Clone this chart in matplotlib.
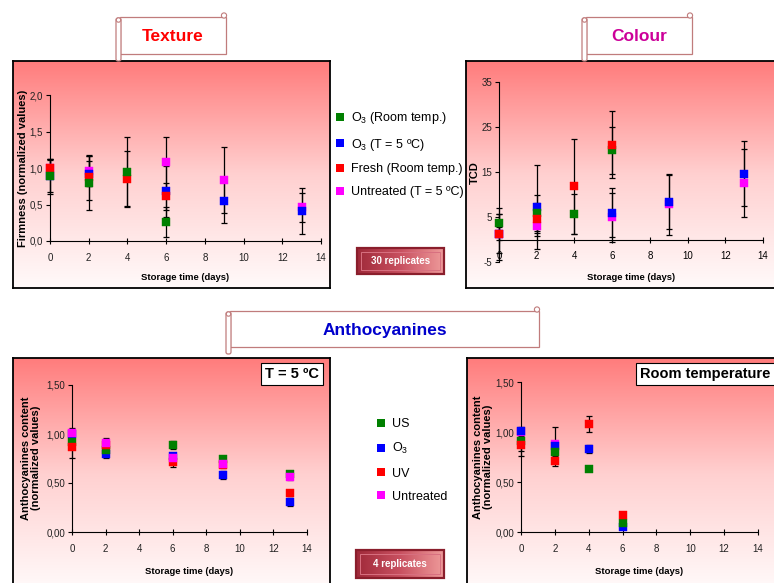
import numpy as np
import matplotlib
matplotlib.use('Agg')
import matplotlib.pyplot as plt
from matplotlib import font_manager
from matplotlib.colors import LinearSegmentedColormap
from matplotlib.lines import Line2D
from matplotlib.patches import Rectangle, Circle, FancyBboxPatch
from matplotlib.ticker import FuncFormatter

plt.rcParams['font.family'] = ['Liberation Sans', 'DejaVu Sans']
plt.rcParams['mathtext.default'] = 'regular'
names = {f.name for f in font_manager.fontManager.ttflist}
narrow = 'Liberation Sans Narrow' if 'Liberation Sans Narrow' in names else 'Liberation Sans'
lab_size = 8 if narrow == 'Liberation Sans Narrow' else 6.8
ylab_size = 9.5 if narrow == 'Liberation Sans Narrow' else 8.0
tick_size = 8.5 if narrow == 'Liberation Sans Narrow' else 7.0

W, H = 774, 583

# ---- data -----------------------------------------------------------
# Texture (firmness, normalized)
tex_green_days = [0, 2, 4, 6]
tex_green = [0.89, 0.80, 0.95, 0.26]
tex_green_err = [0.24, 0.37, 0.47, 0.20]
tex_blue_days = [0, 2, 6, 9, 13]
tex_blue = [0.89, 0.92, 0.68, 0.55, 0.41]
tex_blue_err = [0.22, 0.17, 0.35, 0.30, 0.32]
tex_red_days = [0, 2, 4, 6]
tex_red = [1.00, 0.87, 0.85, 0.61]
tex_red_err = [0.12, 0.31, 0.38, 0.18]
tex_mag_days = [0, 2, 6, 9, 13]
tex_mag = [1.00, 0.96, 1.08, 0.84, 0.46]
tex_mag_err = [0.12, 0.20, 0.35, 0.45, 0.20]

# Colour (TCD)
col_green_days = [0, 2, 4, 6]
col_green = [3.7, 5.9, 5.7, 19.8]
col_green_err = [2.0, 3.9, 4.5, 5.3]
col_blue_days = [0, 2, 6, 9, 13]
col_blue = [1.3, 7.2, 6.0, 8.3, 14.6]
col_blue_err = [4.3, 9.4, 5.4, 6.0, 7.2]
col_red_days = [0, 2, 4, 6]
col_red = [1.3, 4.5, 11.8, 21.1]
col_red_err = [5.8, 3.7, 10.6, 7.5]
col_mag_days = [0, 2, 6, 9, 13]
col_mag = [1.3, 2.9, 4.9, 7.8, 12.6]
col_mag_err = [1.5, 1.4, 5.4, 6.8, 7.5]

# Anthocyanines, T = 5 C
a5_days = [0, 2, 6, 9, 13]
a5_us = [0.92, 0.84, 0.89, 0.75, 0.59]
a5_us_err = [0.04, 0.03, 0.04, 0.03, 0.02]
a5_o3 = [1.00, 0.80, 0.78, 0.58, 0.31]
a5_o3_err = [0.03, 0.04, 0.03, 0.04, 0.04]
a5_uv = [0.87, 0.89, 0.71, 0.68, 0.40]
a5_uv_err = [0.11, 0.04, 0.05, 0.03, 0.03]
a5_un = [1.01, 0.91, 0.76, 0.69, 0.56]
a5_un_err = [0.05, 0.05, 0.04, 0.03, 0.03]

# Anthocyanines, room temperature
art_days = [0, 2, 4, 6]
art_us = [0.91, 0.80, 0.63, 0.09]
art_us_err = [0.10, 0.03, 0.02, 0.02]
art_o3 = [1.01, 0.86, 0.83, 0.05]
art_o3_err = [0.04, 0.03, 0.04, 0.01]
art_uv = [0.87, 0.71, 1.08, 0.17]
art_uv_err = [0.11, 0.05, 0.08, 0.02]
art_un_days = [0, 2]
art_un = [1.00, 0.88]
art_un_err = [0.04, 0.17]

GREEN, BLUE, RED, MAG = '#008000', '#0000FF', '#FF0000', '#FF00FF'

fig = plt.figure(figsize=(W / 100, H / 100), dpi=100)


def rect(x0, y0, x1, y1):
    return [x0 / W, 1 - y1 / H, (x1 - x0) / W, (y1 - y0) / H]


bg_cmap = LinearSegmentedColormap.from_list('bg', ['#FFFAFA', '#FFD0D0', '#FF7C7C'])


def panel(x0, y0, x1, y1):
    a = fig.add_axes(rect(x0, y0, x1, y1), zorder=0)
    g = np.linspace(0, 1, 256).reshape(-1, 1)
    a.imshow(g, cmap=bg_cmap, aspect='auto', extent=[0, 1, 0, 1], origin='lower')
    a.set_xticks([])
    a.set_yticks([])
    for s in a.spines.values():
        s.set_linewidth(1.3)
    return a


def data_axes(x0, y0, x1, y1, xlim, ylim, yticks, fmt):
    ax = fig.add_axes(rect(x0, y0, x1, y1), zorder=2)
    ax.set_facecolor('none')
    ax.spines['top'].set_visible(False)
    ax.spines['right'].set_visible(False)
    ax.set_xlim(*xlim)
    ax.set_ylim(*ylim)
    ax.set_xticks(range(0, 15, 2))
    ax.set_yticks(yticks)
    ax.yaxis.set_major_formatter(FuncFormatter(fmt))
    ax.tick_params(axis='x', direction='inout', length=5, width=0.8, labelsize=tick_size, pad=6)
    ax.tick_params(axis='y', direction='out', length=3, width=0.8, labelsize=tick_size, pad=2)
    for lab in ax.get_xticklabels() + ax.get_yticklabels():
        lab.set_family(narrow)
        lab.set_color('#222222')
    return ax


def series(ax, x, y, e, c):
    cont = ax.errorbar(x, y, yerr=e, fmt='s', color=c, ms=5.2, mec=c, mew=0.3,
                       ecolor='black', elinewidth=0.9, capsize=2.5, capthick=0.9, zorder=3)
    for art in cont.get_children():
        art.set_clip_on(False)
    for cap in cont[1]:
        cap.set_markeredgecolor('black')
        cap.set_markeredgewidth(0.9)


# panel backgrounds
panel(13, 61, 330, 288)
panel(466, 61, 780, 288)
panel(13, 358, 330, 590)
panel(467, 358, 780, 590)

# Texture
ax1 = data_axes(50, 95, 321, 241, (0, 14), (0, 2), [0, 0.5, 1, 1.5, 2],
                lambda v, p: f'{v:.1f}'.replace('.', ','))
series(ax1, tex_mag_days, tex_mag, tex_mag_err, MAG)
series(ax1, tex_blue_days, tex_blue, tex_blue_err, BLUE)
series(ax1, tex_red_days, tex_red, tex_red_err, RED)
series(ax1, tex_green_days, tex_green, tex_green_err, GREEN)

# Colour
ax2 = data_axes(499, 82, 763, 262, (0, 14), (-5, 35), [-5, 5, 15, 25, 35],
                lambda v, p: f'{v:.0f}')
ax2.spines['bottom'].set_position(('data', 0))
series(ax2, col_mag_days, col_mag, col_mag_err, MAG)
series(ax2, col_blue_days, col_blue, col_blue_err, BLUE)
series(ax2, col_green_days, col_green, col_green_err, GREEN)
series(ax2, col_red_days, col_red, col_red_err, RED)

# Anthocyanines T = 5 C
fmt2 = lambda v, p: f'{v:.2f}'.replace('.', ',')
ax3 = data_axes(72, 385, 307, 532, (0, 14), (0, 1.5), [0, 0.5, 1, 1.5], fmt2)
series(ax3, a5_days, a5_o3, a5_o3_err, BLUE)
series(ax3, a5_days, a5_us, a5_us_err, GREEN)
series(ax3, a5_days, a5_uv, a5_uv_err, RED)
series(ax3, a5_days, a5_un, a5_un_err, MAG)

# Anthocyanines room temperature
ax4 = data_axes(521, 382, 758, 532, (0, 14), (0, 1.5), [0, 0.5, 1, 1.5], fmt2)
series(ax4, art_un_days, art_un, art_un_err, MAG)
series(ax4, art_days, art_o3, art_o3_err, BLUE)
series(ax4, art_days, art_us, art_us_err, GREEN)
series(ax4, art_days, art_uv, art_uv_err, RED)

# overlay in pixel coordinates for decorations
ov = fig.add_axes([0, 0, 1, 1], zorder=5)
ov.patch.set_alpha(0)
ov.axis('off')

lab_kw = dict(family=narrow, weight='bold', fontsize=lab_size, ha='center', va='center')
ylab_kw = dict(lab_kw, fontsize=ylab_size)
ov.text(185, 277, 'Storage time (days)', **lab_kw)
ov.text(631, 277, 'Storage time (days)', **lab_kw)
ov.text(189, 572, 'Storage time (days)', **lab_kw)
ov.text(639, 572, 'Storage time (days)', **lab_kw)
ov.text(23, 168, 'Firmness (normalized values)', rotation=90, **ylab_kw)
ov.text(475, 173, 'TCD', rotation=90, **ylab_kw)
ov.text(31, 458, 'Anthocyanines content\n(normalized values)', rotation=90,
        linespacing=1.0, **ylab_kw)
ov.text(483, 457, 'Anthocyanines content\n(normalized values)', rotation=90,
        linespacing=1.0, **ylab_kw)

# condition boxes
ov.text(292, 374, 'T = 5 ºC', fontsize=10.5, weight='bold', ha='center', va='center',
        bbox=dict(boxstyle='square,pad=0.3', fc='white', ec='black', lw=0.8))
ov.text(640, 374, 'Room temperature', fontsize=10.5, weight='bold', ha='left', va='center',
        bbox=dict(boxstyle='square,pad=0.3', fc='white', ec='black', lw=0.8))


def scroll(x0, y0, x1, y1, text, color):
    ec = '#C07C7C'
    ov.add_patch(Rectangle((x0 + 4, y0), x1 - x0 - 4, y1 - y0, fc='white', ec=ec, lw=0.9))
    ov.add_patch(FancyBboxPatch((x0, y0 + 1), 5, y1 - y0 + 6,
                                boxstyle='round,pad=0,rounding_size=2',
                                fc='white', ec=ec, lw=0.9))
    ov.add_patch(Circle((x0 + 2.5, y0 + 3), 2.2, fc='white', ec=ec, lw=0.8))
    ov.add_patch(Circle((x1 - 2, y0 - 1.5), 2.6, fc='white', ec=ec, lw=0.8))
    ov.text((x0 + x1) / 2 + 2, (y0 + y1) / 2 + 1, text, color=color, fontsize=12.5,
            weight='bold', ha='center', va='center')


scroll(116, 17, 226, 54, 'Texture', '#FF0000')
scroll(582, 17, 692, 54, 'Colour', '#CC0099')
scroll(226, 311, 539, 347, 'Anthocyanines', '#0000CC')

btn_cmap = LinearSegmentedColormap.from_list('btn', ['#A02A3A', '#C85060', '#EE9A9A'])


def button(x0, y0, x1, y1, text):
    g = np.linspace(0, 1, 100).reshape(1, -1)
    ov.imshow(g, cmap=btn_cmap, extent=[x0, x1, y1, y0], aspect='auto', zorder=2)
    ov.add_patch(Rectangle((x0, y0), x1 - x0, y1 - y0, fill=False, ec='#8A1E2C', lw=1.6, zorder=3))
    ov.add_patch(Rectangle((x0 + 4, y0 + 4), x1 - x0 - 8, y1 - y0 - 8, fill=False,
                           ec='#D87080', lw=0.7, zorder=3))
    ov.text((x0 + x1) / 2, (y0 + y1) / 2, text, color='white', fontsize=7, weight='bold',
            ha='center', va='center', zorder=4)


button(357, 248, 444, 274, '30 replicates')
button(356, 550, 444, 578, '4 replicates')

ov.set_xlim(0, W)
ov.set_ylim(H, 0)

# legends
sq = lambda c: Line2D([], [], marker='s', ls='none', color=c, ms=6, mew=0)
fig.legend([sq(GREEN), sq(BLUE), sq(RED), sq(MAG)],
           ['O$_3$ (Room temp.)', 'O$_3$ (T = 5 ºC)', 'Fresh (Room temp.)', 'Untreated (T = 5 ºC)'],
           loc='upper left', bbox_to_anchor=(335 / W, 1 - 110 / H), frameon=False,
           fontsize=9, handlelength=0.8, handletextpad=0.5, labelspacing=0.85,
           borderpad=0, borderaxespad=0)
fig.legend([sq(GREEN), sq(BLUE), sq(RED), sq(MAG)],
           ['US', 'O$_3$', 'UV', 'Untreated'],
           loc='upper left', bbox_to_anchor=(376 / W, 1 - 418 / H), frameon=False,
           fontsize=9, handlelength=0.8, handletextpad=0.5, labelspacing=0.9,
           borderpad=0, borderaxespad=0)

fig.savefig('out.png', dpi=100)
